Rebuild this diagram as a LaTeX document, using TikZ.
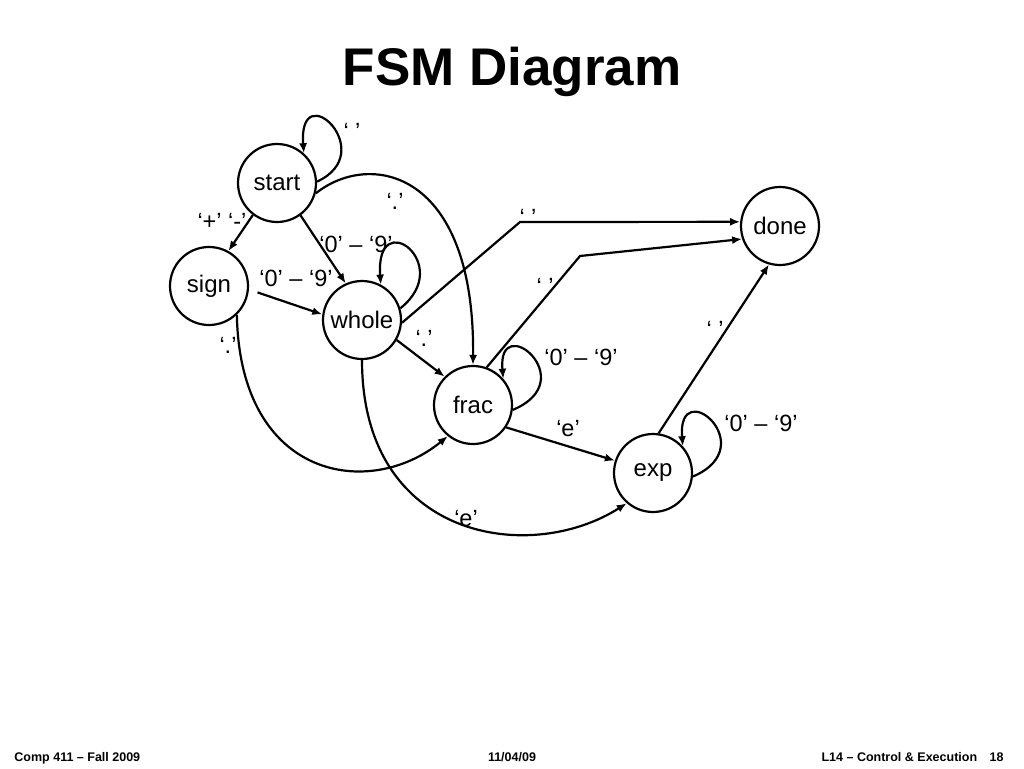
\documentclass[tikz,border=0pt]{standalone}
\usepackage{fontspec}
\setmainfont{Liberation Sans}
\usetikzlibrary{arrows.meta}
\tikzset{>={Latex[length=10pt,width=8pt]}}

\begin{document}
\begin{tikzpicture}[x=1pt, y=1pt, line width=2.2pt,
  state/.style={circle, draw, minimum size=78pt, inner sep=0pt, font=\fontsize{24}{28}\selectfont},
  lbl/.style={anchor=base, font=\fontsize{23.5}{28}\selectfont},
  foot/.style={anchor=base, font=\fontsize{12.5}{14}\selectfont\bfseries}]
\useasboundingbox (0,0) rectangle (1024,-768);

\node[anchor=base, font=\fontsize{53}{60}\selectfont\bfseries] (title) at (512,-85) {FSM Diagram};

% states
\node[state] (start) at (277,-183) {start};
\node[state] (sign) at (209,-286) {sign};
\node[state] (whole) at (362,-320) {whole};
\node[state] (frac) at (473,-405) {frac};
\node[state] (exp) at (653,-473) {exp};
\node[state] (done) at (780,-226) {done};

\coordinate (bendw) at (520,-222);
\coordinate (bendf) at (580,-256);

% self loops
\draw[->] (start.2) .. controls (381,-152) and (298,-74) .. (start.48);
\draw[->] (whole.17) .. controls (456,-264) and (375,-204) .. (whole.62);
\draw[->] (frac.-7) .. controls (584,-380) and (497,-309) .. (frac.41);
\draw[->] (exp.-5) .. controls (764,-446) and (677,-373) .. (exp.42);

% straight transitions
\path[->]
(start.233) edge (sign.61)
(start.-54) edge (whole.114)
(sign.-5) edge[shorten <=9pt] (whole.172)
(whole.-30) edge (frac.135)
(frac.-34) edge (exp.162)
(exp.82) edge (done.-106);
\draw[->] (whole.-4) -- (bendw) -- (done.174);
\draw[->] (frac.70) -- (bendf) -- (done.199);

% curved transitions
\draw[->] (start.-15) .. controls (370,-150) and (475,-170) .. (frac.90);
\draw[->] (sign.-46) .. controls (240,-480) and (370,-500) .. (frac.-129);
\draw[->] (whole.-90) .. controls (362,-540) and (530,-565) .. (exp.-131);

% labels
\node[lbl] (l-ss) at (352,-139) {‘ ’};
\node[lbl] (l-sg) at (222,-229) {‘+’ ‘-’};
\node[lbl] (l-sw) at (356,-252) {‘0’ – ‘9’};
\node[lbl] (l-gw) at (296,-286) {‘0’ – ‘9’};
\node[lbl] (l-sf) at (395,-209) {‘.’};
\node[lbl] (l-wf) at (424,-346) {‘.’};
\node[lbl] (l-gf) at (228,-353) {‘.’};
\node[lbl] (l-wd) at (528,-225) {‘ ’};
\node[lbl] (l-fd) at (545,-294) {‘ ’};
\node[lbl] (l-ed) at (715,-337) {‘ ’};
\node[lbl] (l-ff) at (581,-365) {‘0’ – ‘9’};
\node[lbl] (l-ee) at (761,-431) {‘0’ – ‘9’};
\node[lbl] (l-fe) at (568,-436) {‘e’};
\node[lbl] (l-we) at (466,-526) {‘e’};

% footer
\node[foot, anchor=base west] (f-left) at (10,-761) {Comp 411 – Fall 2009};
\node[foot] (f-mid) at (512,-761) {11/04/09};
\node[foot, anchor=base east] (f-right) at (1008,-761) {L14 – Control \& Execution\quad 18};
\end{tikzpicture}
\end{document}
